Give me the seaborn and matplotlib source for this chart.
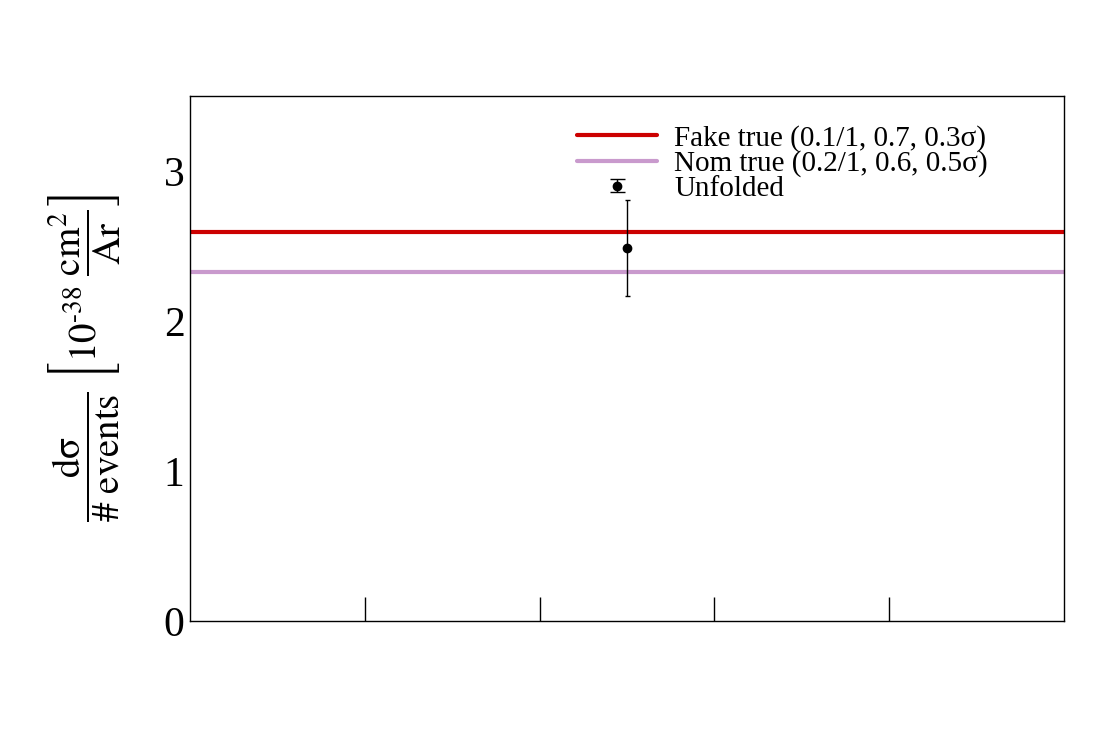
import matplotlib
matplotlib.use("Agg")
import matplotlib.pyplot as plt
import numpy as np
import pandas as pd
import seaborn as sns
from matplotlib.legend_handler import HandlerErrorbar

# single-bin result
bin_edges = [0.0, 1.0]
fake_true = [2.595, 2.595]
nom_true = [2.33, 2.33]
unfolded_x = [0.5]
unfolded_y = [2.49]
unfolded_err = [0.32]
y_ticks = [0, 1, 2, 3]
x_ticks = [0.2, 0.4, 0.6, 0.8]

labels = ["Fake true (0.1/1, 0.7, 0.3σ)",
          "Nom true (0.2/1, 0.6, 0.5σ)",
          "Unfolded"]

sns.set_theme(style="white")
plt.rcParams["font.family"] = ["Liberation Serif", "DejaVu Serif"]
plt.rcParams["mathtext.fontset"] = "stix"
for k in ["text.color", "axes.labelcolor", "xtick.color", "ytick.color",
          "axes.edgecolor"]:
    plt.rcParams[k] = "black"

fig = plt.figure(figsize=(11.2, 7.4), dpi=100)
ax = fig.add_axes([0.1696, 0.1608, 0.95 - 0.1696, 0.8699 - 0.1608])

df = pd.DataFrame({"x": bin_edges + bin_edges,
                   "y": fake_true + nom_true,
                   "curve": [labels[0]] * 2 + [labels[1]] * 2})
sns.lineplot(data=df, x="x", y="y", hue="curve",
             palette=["#cc0000", "#c99acd"], linewidth=3, ax=ax,
             legend=False)

ax.errorbar(unfolded_x, unfolded_y, yerr=unfolded_err, fmt="o",
            color="black", markersize=6, elinewidth=1, capsize=1.8,
            capthick=1)
# proxy for the legend entry (wider caps as in the original)
proxy = ax.errorbar([np.nan], [np.nan], yerr=[np.nan], fmt="o",
                    color="black", markersize=6, elinewidth=1,
                    capsize=5.4, capthick=1)

lines = ax.get_lines()[:2]
leg = ax.legend([lines[0], lines[1], proxy], labels,
                loc="upper left", bbox_to_anchor=(0.43, 0.968),
                frameon=False, fontsize=21, handlelength=2.74,
                handletextpad=0.58, labelspacing=-0.05,
                borderaxespad=0,
                handler_map={proxy: HandlerErrorbar(yerr_size=0.22)})

ax.set_xlim(0, 1)
ax.set_ylim(0, 3.5)
ax.set_xticks(x_ticks)
ax.set_xticklabels([])
ax.set_yticks(y_ticks)
ax.set_yticklabels([str(t) for t in y_ticks], fontsize=30)
ax.tick_params(axis="x", direction="in", length=17, width=1,
               bottom=True, top=False)
ax.tick_params(axis="y", length=0, pad=4)
ax.set_xlabel("")
ax.set_ylabel(r"$\dfrac{\mathrm{dσ}}{\#\ \mathrm{events}}\ "
              r"\left[10^{\text{-38}}\ \dfrac{\mathrm{cm}^{2}}{\mathrm{Ar}}\right]$",
              fontsize=28, labelpad=30)
for s in ax.spines.values():
    s.set_color("black")
    s.set_linewidth(1)

fig.savefig("out.png", dpi=100)
plt.close(fig)
